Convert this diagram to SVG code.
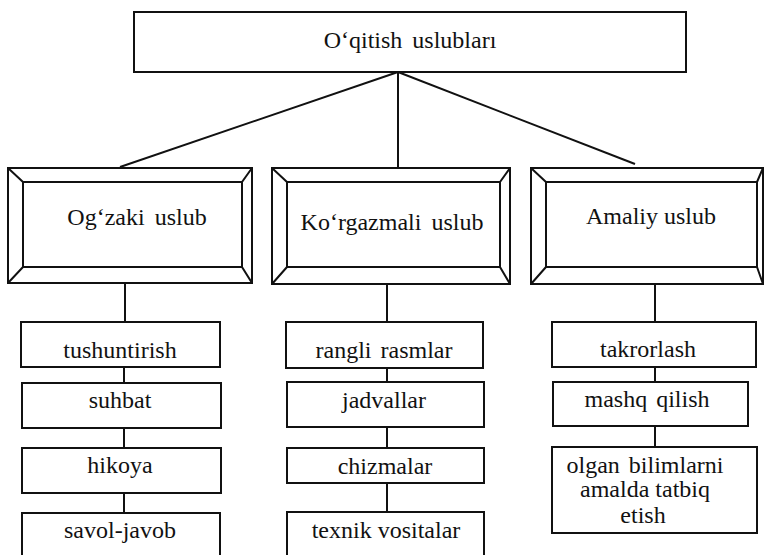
<svg xmlns="http://www.w3.org/2000/svg" width="764" height="555" viewBox="0 0 764 555">
<style>
.box{fill:#fff;stroke:#111;stroke-width:2}
.bv{fill:none;stroke:#111;stroke-width:2}
.ln{stroke:#111;stroke-width:2;fill:none}
.t{font-size:24px;fill:#111;text-anchor:middle}
</style>
<rect width="764" height="555" fill="#fff"/>
<g id="connectors">
<line class="ln" x1="398" y1="72" x2="120" y2="167"/>
<line class="ln" x1="398" y1="72" x2="398" y2="168"/>
<line class="ln" x1="398" y1="72" x2="635" y2="164"/>
<line class="ln" x1="125" y1="283" x2="125" y2="322"/>
<line class="ln" x1="387" y1="284" x2="387" y2="322"/>
<line class="ln" x1="655" y1="284" x2="655" y2="322"/>
<line class="ln" x1="124" y1="367" x2="124" y2="383"/>
<line class="ln" x1="124" y1="428" x2="124" y2="448"/>
<line class="ln" x1="124" y1="493" x2="124" y2="513"/>
<line class="ln" x1="387" y1="368" x2="387" y2="382"/>
<line class="ln" x1="387" y1="427" x2="387" y2="448"/>
<line class="ln" x1="387" y1="483" x2="387" y2="512"/>
<line class="ln" x1="655" y1="367" x2="655" y2="382"/>
<line class="ln" x1="655" y1="426" x2="655" y2="447"/>
</g>
<g font-family="Liberation Serif">
<g id="root">
<rect class="box" x="134" y="12" width="552" height="60"/>
<text class="t" font-family="Liberation Serif" x="410" y="48" word-spacing="4">O‘qitish uslubları</text>
</g>
<g id="ogzaki">
<rect class="box" x="8" y="168" width="244" height="115"/>
<rect class="bv" x="23" y="182" width="219" height="85"/>
<path class="bv" d="M8 168L23 182M252 168L242 182M8 283L23 267M252 283L242 267"/>
<text class="t" font-family="Liberation Serif" x="137" y="225" word-spacing="4">Og‘zaki uslub</text>
</g>
<g id="korgazmali">
<rect class="box" x="272" y="168" width="238" height="116"/>
<rect class="bv" x="287" y="182" width="213" height="85"/>
<path class="bv" d="M272 168L287 182M510 168L500 182M272 284L287 267M510 284L500 267"/>
<text class="t" font-family="Liberation Serif" x="392" y="230" word-spacing="4">Ko‘rgazmali uslub</text>
</g>
<g id="amaliy">
<rect class="box" x="531" y="168" width="232" height="116"/>
<rect class="bv" x="546" y="182" width="211" height="85"/>
<path class="bv" d="M531 168L546 182M763 168L757 182M531 284L546 267M763 284L757 267"/>
<text class="t" font-family="Liberation Serif" x="651" y="224">Amaliy uslub</text>
</g>
<g id="tushuntirish"><rect class="box" x="21" y="322" width="199" height="45"/><text class="t" font-family="Liberation Serif" x="120" y="358">tushuntirish</text></g>
<g id="suhbat"><rect class="box" x="22" y="383" width="199" height="45"/><text class="t" font-family="Liberation Serif" x="120" y="408">suhbat</text></g>
<g id="hikoya"><rect class="box" x="22" y="448" width="199" height="45"/><text class="t" font-family="Liberation Serif" x="120" y="473">hikoya</text></g>
<g id="savol-javob"><rect class="box" x="22" y="513" width="198" height="60"/><text class="t" font-family="Liberation Serif" x="120" y="538">savol-javob</text></g>
<g id="rangli"><rect class="box" x="286" y="322" width="197" height="46"/><text class="t" font-family="Liberation Serif" x="384" y="358" word-spacing="3">rangli rasmlar</text></g>
<g id="jadvallar"><rect class="box" x="287" y="382" width="197" height="45"/><text class="t" font-family="Liberation Serif" x="384" y="408">jadvallar</text></g>
<g id="chizmalar"><rect class="box" x="287" y="448" width="197" height="35"/><text class="t" font-family="Liberation Serif" x="385" y="474">chizmalar</text></g>
<g id="texnik"><rect class="box" x="287" y="512" width="197" height="60"/><text class="t" font-family="Liberation Serif" x="386" y="538">texnik vositalar</text></g>
<g id="takrorlash"><rect class="box" x="552" y="322" width="204" height="45"/><text class="t" font-family="Liberation Serif" x="648" y="357">takrorlash</text></g>
<g id="mashq"><rect class="box" x="553" y="382" width="195" height="44"/><text class="t" font-family="Liberation Serif" x="647" y="407" word-spacing="3">mashq qilish</text></g>
<g id="olgan"><rect class="box" x="552" y="447" width="205" height="86"/>
<text class="t" font-family="Liberation Serif" x="645" y="473" word-spacing="3">olgan bilimlarni</text>
<text class="t" font-family="Liberation Serif" x="645" y="497">amalda tatbiq</text>
<text class="t" font-family="Liberation Serif" x="643" y="523">etish</text></g>
</g>
</svg>
